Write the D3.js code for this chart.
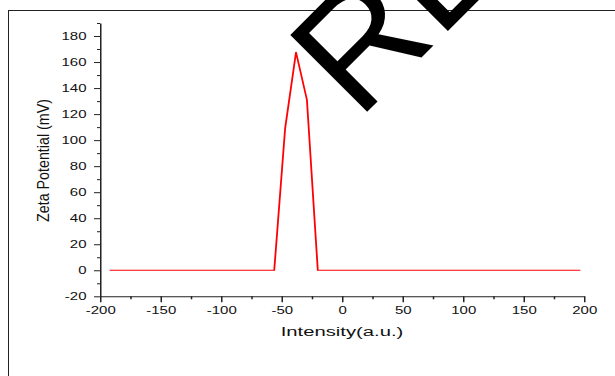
<!DOCTYPE html>
<html>
  <head>
    <meta charset="utf-8">
    <title>Zeta potential</title>
    <style>
      body{margin:0; background:#fff;}
      svg{display:block; font-family:"Liberation Sans", Arial, sans-serif;}
    </style>
    <script src="https://d3js.org/d3.v7.min.js"></script>
  </head>
  <body>
    <script>

        // values
        var intensity = [-192, -56, -47, -38, -29, -20, 197];
        var zeta      = [0, 0, 109, 167.5, 131, 0, 0];
        var xTicks = [-200, -150, -100, -50, 0, 50, 100, 150, 200];
        var yTicks = [-20, 0, 20, 40, 60, 80, 100, 120, 140, 160, 180];

        var width = 615, height = 376;
        // the original picture is stretched sideways, so the chart is drawn squeezed and stretched back
        var sx = 1.5;

        var svg = d3.select("body").append("svg")
            .attr("width", width)
            .attr("height", height);

        // frame round the picture
        svg.append("rect")
            .attr("x", 8.5).attr("y", 10.5)
            .attr("width", 700).attr("height", 500)
            .attr("fill", "none")
            .attr("stroke", "#222")
            .attr("stroke-width", 1);

        var chart = svg.append("svg")
            .attr("width", width).attr("height", height)
            .attr("viewBox", "0 0 " + (width / sx) + " " + height)
            .attr("preserveAspectRatio", "none");

        var x = d3.scaleLinear().domain([-200, 200]).range([100 / sx, 584 / sx]);
        var y = d3.scaleLinear().domain([-20, 190]).range([296.3, 23]);

        var xMinor = d3.range(-175, 200, 50);
        var yMinor = d3.range(-10, 200, 20);

        // plain hyphen for negatives, like the original
        var fmt = function (d) { return String(d); };

        // minor ticks first
        chart.append("g")
            .attr("transform", "translate(0," + y(-20) + ")")
            .call(d3.axisBottom(x).tickValues(xMinor).tickSize(3).tickFormat(""))
            .call(function (g) { g.select(".domain").remove(); });
        chart.append("g")
            .attr("transform", "translate(" + x(-200) + ",0)")
            .call(d3.axisLeft(y).tickValues(yMinor).tickSize(2).tickFormat(""))
            .call(function (g) { g.select(".domain").remove(); });

        var xAxis = chart.append("g")
            .attr("transform", "translate(0," + y(-20) + ")")
            .call(d3.axisBottom(x).tickValues(xTicks).tickFormat(fmt).tickSize(6).tickSizeOuter(0).tickPadding(5));
        var yAxis = chart.append("g")
            .attr("transform", "translate(" + x(-200) + ",0)")
            .call(d3.axisLeft(y).tickValues(yTicks).tickFormat(fmt).tickSize(4).tickSizeOuter(0).tickPadding(5));

        chart.selectAll(".tick line, .domain").attr("stroke", "#222");
        chart.selectAll(".tick text")
            .attr("fill", "#111")
            .style("font-family", "'Liberation Sans', Arial, sans-serif")
            .style("font-size", "10px");

        // the line
        var pts = d3.zip(intensity, zeta);
        chart.append("path")
            .datum(pts)
            .attr("fill", "none")
            .attr("stroke", "#ff0000")
            .attr("stroke-width", 1.2)
            .attr("stroke-linejoin", "round")
            .attr("d", d3.line().x(function (d) { return x(d[0]); }).y(function (d) { return y(d[1]); }));

        // axis titles
        chart.append("text")
            .attr("x", x(0)).attr("y", 336.5)
            .attr("text-anchor", "middle")
            .attr("fill", "#111")
            .style("font-size", "13.5px")
            .text("Intensity(a.u.)");

        chart.append("text")
            .attr("transform", "translate(" + (49 / sx) + ",160.5) rotate(-90)")
            .attr("text-anchor", "middle")
            .attr("fill", "#111")
            .attr("textLength", 123)
            .attr("lengthAdjust", "spacingAndGlyphs")
            .style("font-size", "10.5px")
            .text("Zeta Potential (mV)");

        // big stamp over the top
        svg.append("text")
            .attr("transform", "translate(358,121) rotate(-45)")
            .attr("fill", "#000")
            .style("font-size", "158px")
            .text("RE");

    </script>
  </body>
</html>
